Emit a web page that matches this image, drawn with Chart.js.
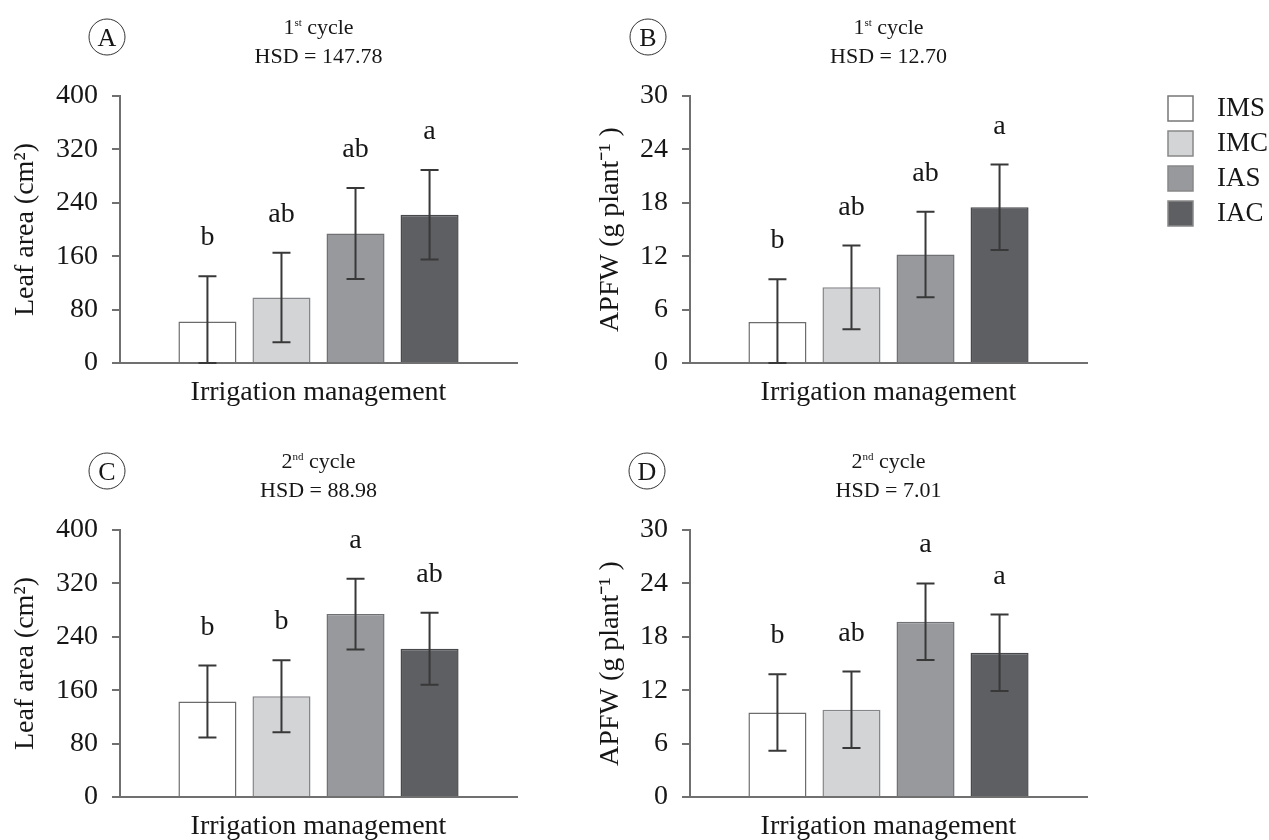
<!DOCTYPE html>
<html>
<head>
<meta charset="utf-8">
<script src="https://cdn.jsdelivr.net/npm/chart.js@4.4.1/dist/chart.umd.min.js"></script>
<style>
html, body { margin: 0; padding: 0; background: #fff; overflow: hidden; }
canvas { position: absolute; }
</style>
</head>
<body>
<canvas id="chartA" width="560" height="420" style="left:0px;top:0px"></canvas>
<canvas id="chartB" width="709" height="420" style="left:560px;top:0px"></canvas>
<canvas id="chartC" width="560" height="420" style="left:0px;top:434px"></canvas>
<canvas id="chartD" width="709" height="420" style="left:560px;top:434px"></canvas>
<script>
// treatments
const groups = ['IMS', 'IMC', 'IAS', 'IAC'];

// 1st cycle - leaf area (cm2)
const leafArea1 = [62, 98, 194, 222];
const leafArea1Err = [68, 67, 68, 67];
const leafArea1Letters = ['b', 'ab', 'ab', 'a'];

// 1st cycle - APFW (g/plant)
const apfw1 = [4.6, 8.5, 12.2, 17.5];
const apfw1Err = [4.8, 4.7, 4.8, 4.8];
const apfw1Letters = ['b', 'ab', 'ab', 'a'];

// 2nd cycle - leaf area (cm2)
const leafArea2 = [143, 151, 274, 222];
const leafArea2Err = [54, 54, 53, 54];
const leafArea2Letters = ['b', 'b', 'a', 'ab'];

// 2nd cycle - APFW (g/plant)
const apfw2 = [9.5, 9.8, 19.7, 16.2];
const apfw2Err = [4.3, 4.3, 4.3, 4.3];
const apfw2Letters = ['b', 'ab', 'a', 'a'];

const hsdLabels = ['HSD = 147.78', 'HSD = 12.70', 'HSD = 88.98', 'HSD = 7.01'];
const leafTicks = [0, 80, 160, 240, 320, 400];
const apfwTicks = [0, 6, 12, 18, 24, 30];

const serif = '"Liberation Serif", "Times New Roman", serif';
const ink = '#161616';
const axisGrey = '#707070';
const barFills = ['#ffffff', '#d3d4d6', '#97999c', '#5e5f63'];
const barEdges = ['#6c6c6c', '#85868a', '#6f7174', '#47484b'];

Chart.defaults.font.family = serif;
Chart.defaults.color = ink;

// error bars and the significance letters over them
const errorBarPlugin = {
    id: 'errorBars',
    afterDatasetsDraw(chart) {
        const ctx = chart.ctx;
        const y = chart.scales.y;
        ctx.save();
        chart.data.datasets.forEach((ds, i) => {
            const bar = chart.getDatasetMeta(i).data[0];
            const v = ds.data[0];
            const top = y.getPixelForValue(v + ds.err);
            const bot = y.getPixelForValue(Math.max(0, v - ds.err));
            ctx.strokeStyle = '#383838';
            ctx.lineWidth = 2;
            ctx.beginPath();
            ctx.moveTo(bar.x, top); ctx.lineTo(bar.x, bot);
            ctx.moveTo(bar.x - 9, top); ctx.lineTo(bar.x + 9, top);
            ctx.moveTo(bar.x - 9, bot); ctx.lineTo(bar.x + 9, bot);
            ctx.stroke();
            ctx.fillStyle = ink;
            ctx.font = '28px ' + serif;
            ctx.textAlign = 'center';
            ctx.textBaseline = 'alphabetic';
            ctx.fillText(ds.letter, bar.x, top - 31);
        });
        ctx.restore();
    }
};

// circled panel letter + cycle / HSD header
function headerPlugin(tag, cycleNum, cycleSup, hsd, circleX) {
    return {
        id: 'header' + tag,
        afterDraw(chart) {
            const ctx = chart.ctx;
            const cx = (chart.chartArea.left + chart.chartArea.right) / 2;
            ctx.save();
            ctx.strokeStyle = '#333';
            ctx.lineWidth = 1;
            ctx.beginPath();
            ctx.arc(circleX, 37, 18, 0, Math.PI * 2);
            ctx.stroke();
            ctx.fillStyle = ink;
            ctx.font = '26px ' + serif;
            ctx.textAlign = 'center';
            ctx.textBaseline = 'alphabetic';
            ctx.fillText(tag, circleX, 46);

            const big = '22px ' + serif;
            const small = '11px ' + serif;
            ctx.font = big;
            const w1 = ctx.measureText(cycleNum).width;
            const w3 = ctx.measureText(' cycle').width;
            ctx.font = small;
            const w2 = ctx.measureText(cycleSup).width;
            let x = cx - (w1 + w2 + w3) / 2;
            ctx.textAlign = 'left';
            ctx.font = big;
            ctx.fillText(cycleNum, x, 34); x += w1;
            ctx.font = small;
            ctx.fillText(cycleSup, x, 26); x += w2;
            ctx.font = big;
            ctx.fillText(' cycle', x, 34);
            ctx.textAlign = 'center';
            ctx.fillText(hsd, cx, 63);
            ctx.restore();
        }
    };
}

// legend next to panel B
const sideLegend = {
    id: 'sideLegend',
    afterDraw(chart) {
        const ctx = chart.ctx;
        ctx.save();
        chart.data.datasets.forEach((ds, i) => {
            const top = 96 + 35 * i;
            ctx.fillStyle = ds.backgroundColor;
            ctx.fillRect(608, top, 25, 25);
            ctx.strokeStyle = i === 0 ? '#777' : '#888';
            ctx.lineWidth = 1.5;
            ctx.strokeRect(608, top, 25, 25);
            ctx.fillStyle = ink;
            ctx.font = '27px ' + serif;
            ctx.textAlign = 'left';
            ctx.textBaseline = 'middle';
            ctx.fillText(ds.label, 657, top + 13);
        });
        ctx.restore();
    }
};

function makePanel(id, p) {
    return new Chart(document.getElementById(id), {
        type: 'bar',
        data: {
            labels: ['Irrigation management'],
            datasets: groups.map((g, i) => ({
                label: g,
                data: [p.means[i]],
                err: p.errs[i],
                letter: p.letters[i],
                backgroundColor: barFills[i],
                borderColor: barEdges[i],
                borderWidth: 1.5,
                categoryPercentage: 0.746,
                barPercentage: 0.784
            }))
        },
        options: {
            responsive: false,
            animation: false,
            events: [],
            layout: { padding: { top: 96, left: 0, right: p.rightPad, bottom: 13 } },
            plugins: { legend: { display: false }, tooltip: { enabled: false } },
            scales: {
                x: {
                    grid: { display: false },
                    border: { display: true, color: axisGrey, width: 2 },
                    ticks: { display: false },
                    title: { display: true, text: 'Irrigation management', color: ink,
                             font: { size: 28, lineHeight: 1 }, padding: { top: 0, bottom: 0 } },
                    afterFit(s) { s.height = 44; }
                },
                y: {
                    min: 0,
                    max: p.ticks[p.ticks.length - 1],
                    afterBuildTicks(s) { s.ticks = p.ticks.map(v => ({ value: v })); },
                    grid: { display: true, drawOnChartArea: false, drawTicks: true, tickLength: 8,
                            color: axisGrey, lineWidth: 2 },
                    border: { display: true, color: axisGrey, width: 2 },
                    ticks: { color: ink, padding: 14, font: { size: 28 } },
                    title: { display: true, text: p.yTitle, color: ink,
                             font: { size: 28, lineHeight: 1 }, padding: { top: p.titlePad, bottom: 0 } },
                    afterFit(s) { s.width = p.yWidth; }
                }
            }
        },
        plugins: [errorBarPlugin, headerPlugin(p.tag, p.cycle, p.sup, p.hsd, p.circleX)].concat(p.extra || [])
    });
}

makePanel('chartA', { tag: 'A', cycle: '1', sup: 'st', hsd: hsdLabels[0], circleX: 107,
    means: leafArea1, errs: leafArea1Err, letters: leafArea1Letters, ticks: leafTicks,
    yTitle: 'Leaf area (cm²)', yWidth: 120, titlePad: 12, rightPad: 43 });
makePanel('chartB', { tag: 'B', cycle: '1', sup: 'st', hsd: hsdLabels[1], circleX: 88,
    means: apfw1, errs: apfw1Err, letters: apfw1Letters, ticks: apfwTicks,
    yTitle: 'APFW (g plant⁻¹ )', yWidth: 130, titlePad: 37, rightPad: 182, extra: [sideLegend] });
makePanel('chartC', { tag: 'C', cycle: '2', sup: 'nd', hsd: hsdLabels[2], circleX: 107,
    means: leafArea2, errs: leafArea2Err, letters: leafArea2Letters, ticks: leafTicks,
    yTitle: 'Leaf area (cm²)', yWidth: 120, titlePad: 12, rightPad: 43 });
makePanel('chartD', { tag: 'D', cycle: '2', sup: 'nd', hsd: hsdLabels[3], circleX: 87,
    means: apfw2, errs: apfw2Err, letters: apfw2Letters, ticks: apfwTicks,
    yTitle: 'APFW (g plant⁻¹ )', yWidth: 130, titlePad: 37, rightPad: 182 });
</script>
</body>
</html>
